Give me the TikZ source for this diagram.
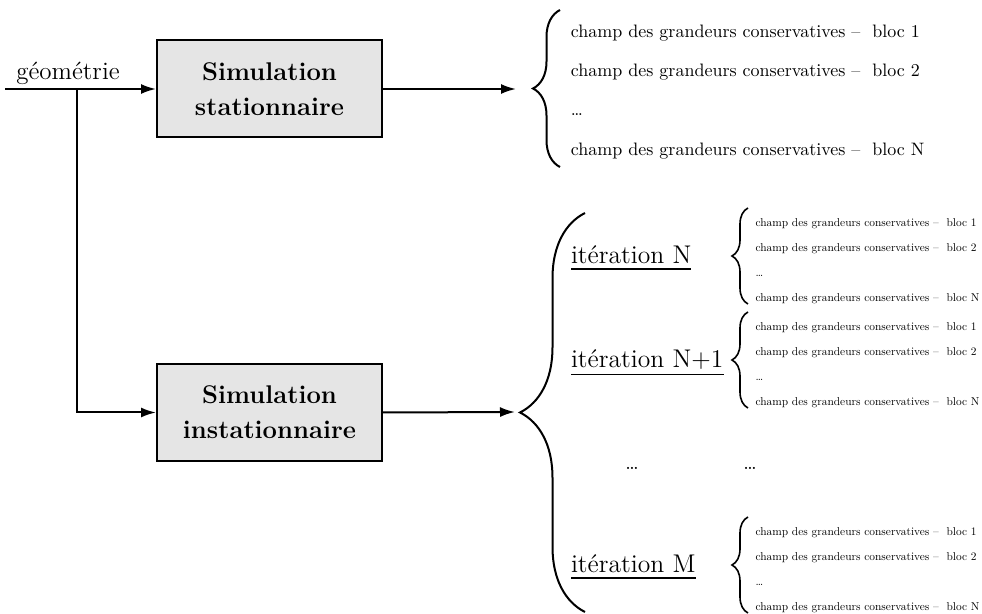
\documentclass[tikz,border=0pt]{standalone}
\usepackage{tikz}
\usetikzlibrary{arrows.meta,calc,positioning,decorations.pathreplacing}
\newcommand{\champ}[1]{champ des grandeurs conservatives --~ bloc #1}
\newcommand{\souligne}[1]{\vtop{\hbox{#1}\kern2pt\hrule height 0.7pt}}
\tikzset{
  simbox/.style={draw,line width=1pt,fill=gray!20,minimum width=112.5pt,minimum height=48.5pt,align=center,font=\fontsize{12.8}{17.5}\selectfont\bfseries},
  champ/.style={anchor=base west,inner sep=0pt,font=\normalsize,scale=0.9,transform shape},
  petitchamp/.style={anchor=base west,inner sep=0pt,font=\normalsize,scale=0.57,transform shape},
  iter/.style={anchor=base west,inner sep=0pt,font=\fontsize{12.8}{15}\selectfont},
  accolade/.style={decorate,decoration={brace,amplitude=#1}},
}
\begin{document}
\begin{tikzpicture}[x=0.5pt,y=-0.5pt,>={Latex[length=7.5pt,width=5pt]},line width=1pt]
    \useasboundingbox (0,0) rectangle (982,614);
    \node[simbox] (stat) at (269.5,89) {Simulation\\stationnaire};
    \node[simbox] (instat) at (269.5,412.5) {Simulation\\instationnaire};

    \coordinate (in) at (5,89);
    \coordinate (split) at (77,89);
    \node[font=\fontsize{12.5}{15}\selectfont,anchor=base] (geo) at (68,80) {géométrie};
    \draw[->] (in) -- (stat.west);
    \draw[->] (split) |- (instat.west);

    % sortie stationnaire
    \coordinate (outS) at (516,89);
    \draw[->] (stat.east) -- (outS);
    \draw[accolade=13.5pt] (560,167) -- (560,10);
    \foreach \t [count=\i] in {\champ{1},\champ{2},\ldots,\champ{N}}
        \node[champ] (S-\i) at (570,-2+39.3*\i) {\t};

    % sortie instationnaire
    \coordinate (outI) at (515,412);
    \draw[->] (instat.east) -- (outI);
    \draw[accolade=32.5pt] (585,612) -- (585,213);
    \foreach \top/\lab/\nm in {208/{itération N}/itN, 312/{itération N+1}/itNN, 517/{itération M}/itM}{
        \node[iter] (\nm) at (570,\top+56) {\souligne{\lab}};
        \draw[accolade=8pt,line width=0.8pt] (748,\top+96) -- (748,\top);
        \foreach \t [count=\i] in {\champ{1},\champ{2},\ldots,\champ{N}}
            \node[petitchamp] (\nm-\i) at (755,\top-6+25*\i) {\t};
    }
    \node (dotsA) at (632,468) {\ldots};
    \node (dotsB) at (750,468) {\ldots};
\end{tikzpicture}
\end{document}
